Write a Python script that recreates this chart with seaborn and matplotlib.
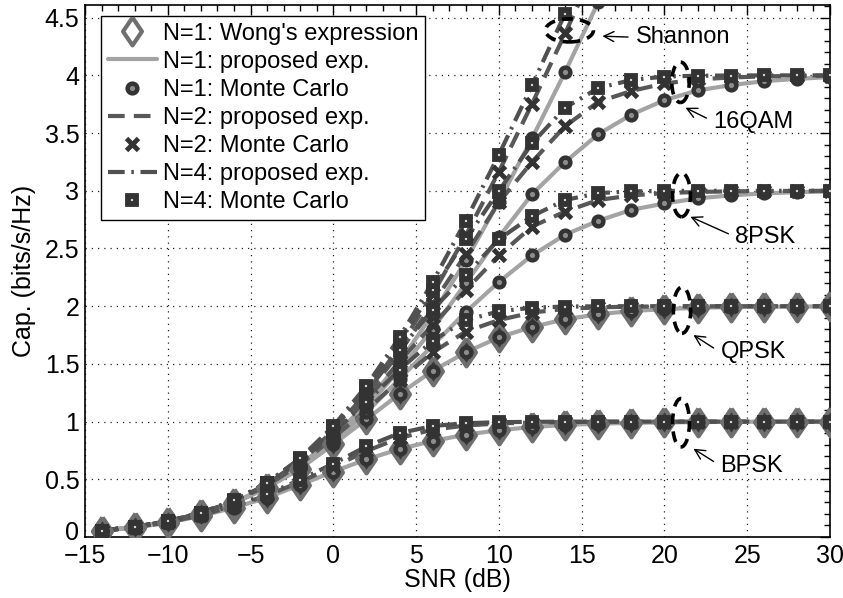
import numpy as np
import matplotlib
matplotlib.use("Agg")
import matplotlib.pyplot as plt
import matplotlib.transforms as mtransforms
import seaborn as sns
from matplotlib.patches import Ellipse
from matplotlib.lines import Line2D
from matplotlib.ticker import MultipleLocator, FormatStrFormatter

nan = np.nan

# ---------------- data ----------------
snr_db = [-14, -12, -10, -8, -6, -4, -2, 0, 2, 4, 6, 8, 10, 12, 14, 16, 18, 20, 22, 24, 26, 28, 30]

shannon_n1 = [0.055, 0.086, 0.132, 0.200, 0.299, 0.436, 0.621, 0.860, 1.158, 1.516, 1.930, 2.396, 2.907, 3.454, 4.030, 4.634,
              nan, nan, nan, nan, nan, nan, nan]
shannon_n2 = [0.056, 0.087, 0.135, 0.206, 0.311, 0.458, 0.659, 0.922, 1.251, 1.647, 2.104, 2.614, 3.166, 3.753, 4.364, 4.992,
              nan, nan, nan, nan, nan, nan, nan]
shannon_n4 = [0.056, 0.088, 0.136, 0.209, 0.317, 0.471, 0.682, 0.961, 1.310, 1.730, 2.210, 2.741, 3.313, 3.914, 4.536, 5.170,
              nan, nan, nan, nan, nan, nan, nan]

bpsk_n1 = [0.052, 0.082, 0.124, 0.182, 0.255, 0.340, 0.452, 0.567, 0.672, 0.762, 0.832, 0.887, 0.925, 0.953, 0.971, 0.982,
           0.989, 0.993, 0.996, 0.998, 0.999, 0.999, 1.000]
bpsk_n2 = [0.053, 0.083, 0.127, 0.189, 0.267, 0.360, 0.478, 0.608, 0.745, 0.858, 0.930, 0.966, 0.984, 0.992, 0.996, 0.998,
           0.999, 1.000, 1.000, 1.000, 1.000, 1.000, 1.000]
bpsk_n4 = [0.054, 0.084, 0.129, 0.193, 0.274, 0.371, 0.496, 0.636, 0.785, 0.900, 0.962, 0.986, 0.995, 0.998, 0.999, 1.000,
           1.000, 1.000, 1.000, 1.000, 1.000, 1.000, 1.000]

qpsk_n1 = [0.055, 0.085, 0.131, 0.197, 0.293, 0.425, 0.592, 0.803, 1.020, 1.240, 1.440, 1.600, 1.730, 1.820, 1.887, 1.930,
           1.958, 1.975, 1.986, 1.992, 1.995, 1.997, 1.999]
qpsk_n2 = [0.056, 0.087, 0.134, 0.204, 0.305, 0.447, 0.630, 0.860, 1.100, 1.360, 1.600, 1.780, 1.880, 1.945, 1.976, 1.990,
           1.996, 1.998, 1.999, 2.000, 2.000, 2.000, 2.000]
qpsk_n4 = [0.056, 0.088, 0.136, 0.207, 0.313, 0.460, 0.655, 0.900, 1.170, 1.450, 1.700, 1.880, 1.955, 1.987, 1.997, 1.999,
           2.000, 2.000, 2.000, 2.000, 2.000, 2.000, 2.000]

psk8_n1 = [0.055, 0.086, 0.131, 0.199, 0.296, 0.430, 0.605, 0.825, 1.080, 1.370, 1.660, 1.950, 2.210, 2.440, 2.620, 2.740,
           2.835, 2.890, 2.935, 2.960, 2.978, 2.988, 2.994]
psk8_n2 = [0.056, 0.087, 0.134, 0.205, 0.309, 0.452, 0.648, 0.895, 1.190, 1.520, 1.840, 2.140, 2.440, 2.690, 2.820, 2.920,
           2.960, 2.980, 2.990, 2.995, 2.998, 2.999, 3.000]
psk8_n4 = [0.056, 0.088, 0.136, 0.208, 0.316, 0.467, 0.675, 0.940, 1.260, 1.620, 1.970, 2.270, 2.580, 2.780, 2.920, 2.980,
           2.995, 2.999, 3.000, 3.000, 3.000, 3.000, 3.000]

qam16_n1 = [0.055, 0.086, 0.132, 0.200, 0.298, 0.434, 0.615, 0.845, 1.125, 1.450, 1.800, 2.200, 2.600, 2.970, 3.250, 3.490,
            3.660, 3.785, 3.870, 3.915, 3.950, 3.970, 3.985]
qam16_n2 = [0.056, 0.087, 0.135, 0.206, 0.310, 0.456, 0.655, 0.910, 1.230, 1.600, 2.020, 2.450, 2.900, 3.250, 3.560, 3.770,
            3.865, 3.930, 3.965, 3.982, 3.991, 3.996, 3.998]
qam16_n4 = [0.056, 0.088, 0.136, 0.209, 0.316, 0.469, 0.678, 0.950, 1.290, 1.690, 2.140, 2.580, 3.000, 3.410, 3.720, 3.890,
            3.960, 3.990, 3.997, 3.999, 4.000, 4.000, 4.000]

# Wong's expression (N=1) only for BPSK and QPSK; coincides with N=1 results
wong_bpsk = bpsk_n1
wong_qpsk = qpsk_n1

legend_labels = ["N=1: Wong's expression", "N=1: proposed exp.", "N=1: Monte Carlo",
                 "N=2: proposed exp.", "N=2: Monte Carlo", "N=4: proposed exp.", "N=4: Monte Carlo"]
x_ticks = [-15, -10, -5, 0, 5, 10, 15, 20, 25, 30]
y_ticks = [0, 0.5, 1, 1.5, 2, 2.5, 3, 3.5, 4, 4.5]

curves_n1 = [bpsk_n1, qpsk_n1, psk8_n1, qam16_n1, shannon_n1]
curves_n2 = [bpsk_n2, qpsk_n2, psk8_n2, qam16_n2, shannon_n2]
curves_n4 = [bpsk_n4, qpsk_n4, psk8_n4, qam16_n4, shannon_n4]

# ---------------- styling ----------------
sns.set_theme(style="white")
plt.rcParams["font.family"] = ["Liberation Sans", "DejaVu Sans"]
plt.rcParams["axes.unicode_minus"] = True
for k in ["text.color", "axes.labelcolor", "xtick.color", "ytick.color", "axes.edgecolor"]:
    plt.rcParams[k] = "black"

FS = 18
c_n1 = "#a3a3a3"
c_n2 = "#585858"
c_n4 = "#505050"
c_dark = "#333333"
c_dia_edge = "#6f6f6f"

dash_n2 = (0, (4.0, 2.2))
dash_n4 = (0, (4.0, 1.6, 0.6, 1.6))

# tall diamond (as in the reference)
diamond = [(0, 1.0), (0.68, 0), (0, -1.0), (-0.68, 0), (0, 1.0)]

fig = plt.figure(figsize=(8.43, 5.98), dpi=100)
ax = fig.add_axes([85 / 843, 1 - 537 / 598, (830 - 85) / 843, (537 - 5) / 598])


def draw_line(y, **kw):
    sns.lineplot(x=snr_db, y=y, ax=ax, legend=False, estimator=None, sort=False, **kw)


# lines (proposed expressions)
for y in curves_n1:
    draw_line(y, color=c_n1, linewidth=3.0, zorder=2)
for y in curves_n2:
    draw_line(y, color=c_n2, linewidth=3.0, linestyle=dash_n2, zorder=2.1)
for y in curves_n4:
    draw_line(y, color=c_n4, linewidth=3.0, linestyle=dash_n4, zorder=2.2)

# Wong's expression markers
for y in [wong_bpsk, wong_qpsk]:
    draw_line(y, color=c_dia_edge, linestyle="none", marker=diamond, markersize=20,
              mfc="#3a3a3a", mec=c_dia_edge, mew=3.0, zorder=3)

# Monte Carlo markers
for y in curves_n1:
    draw_line(y, color=c_dark, linestyle="none", marker="o", markersize=7,
              mfc="#8c8c8c", mec=c_dark, mew=3.2, zorder=4)
for y in curves_n2:
    draw_line(y, color=c_dark, linestyle="none", marker="x", markersize=8.5,
              mec=c_dark, mew=3.5, zorder=5)
for y in curves_n4:
    draw_line(y, color=c_dark, linestyle="none", marker="s", markersize=6.0,
              mfc="#d0d0d0", mec=c_dark, mew=4.2, zorder=6)

# ---------------- axes ----------------
ax.set_xlim(-15, 30)
ax.set_ylim(0, 4.61)
ax.set_xticks(x_ticks)
ax.set_yticks(y_ticks)
ax.yaxis.set_major_formatter(FormatStrFormatter("%g"))
ax.xaxis.set_minor_locator(MultipleLocator(1))
ax.yaxis.set_minor_locator(MultipleLocator(0.1))
ax.tick_params(which="both", direction="in", top=True, right=True, colors="black",
               labelsize=FS, width=1.0)
ax.tick_params(which="major", length=7)
ax.tick_params(axis="x", which="major", pad=5)
ax.tick_params(axis="y", which="major", pad=4)
ax.tick_params(which="minor", length=4)
ax.grid(True, which="major", linestyle=(0, (1, 4)), color="#222222", linewidth=0.9)
for s in ax.spines.values():
    s.set_color("black")
    s.set_linewidth(1.2)
    s.set_visible(True)

ax.set_xlabel("SNR (dB)", fontsize=FS, labelpad=0, color="black")
ax.set_ylabel("Cap. (bits/s/Hz)", fontsize=FS, labelpad=6, color="black")

# lift the "0" y label slightly so it sits above the "-15" x label (as in the reference)
fig.canvas.draw()
zero_lbl = ax.yaxis.get_major_ticks()[0].label1
zero_lbl.set_transform(zero_lbl.get_transform() +
                       mtransforms.ScaledTranslation(0, 7 / 100, fig.dpi_scale_trans))

# ---------------- ellipses + annotations ----------------
ell_kw = dict(fill=False, edgecolor="black", linewidth=2.6, linestyle=(0, (3.0, 2.0)), zorder=8)
ellipses = [((14.26, 4.39), 2.9, 0.20), ((20.97, 3.94), 1.05, 0.35), ((21.03, 2.965), 1.08, 0.38),
            ((21.06, 1.965), 1.05, 0.40), ((21.0, 0.99), 1.02, 0.42)]
for (c, w, h) in ellipses:
    ax.add_patch(Ellipse(c, w, h, **ell_kw))

annots = [("Shannon", (16.25, 4.34), (18.25, 4.33)),
          ("16QAM", (21.27, 3.72), (22.96, 3.60)),
          ("8PSK", (21.57, 2.775), (24.29, 2.60)),
          ("QPSK", (21.75, 1.75), (23.38, 1.60)),
          ("BPSK", (21.75, 0.765), (23.38, 0.617))]
for txt, head, pos in annots:
    ax.annotate(txt, xy=head, xytext=pos, fontsize=17, ha="left", va="center", zorder=9, color="black",
                arrowprops=dict(arrowstyle="->", color="black", lw=1.0, shrinkA=3, shrinkB=0,
                                relpos=(0, 0.5), mutation_scale=18))

# ---------------- legend ----------------
handles = [
    Line2D([], [], linestyle="none", marker=diamond, markersize=20, mfc="white", mec=c_dia_edge, mew=3.0),
    Line2D([], [], color=c_n1, linewidth=3.0),
    Line2D([], [], linestyle="none", marker="o", markersize=7, mfc="#8c8c8c", mec=c_dark, mew=3.2),
    Line2D([], [], color=c_n2, linewidth=3.0, linestyle=dash_n2),
    Line2D([], [], linestyle="none", marker="x", markersize=8.5, mec=c_dark, mew=3.5),
    Line2D([], [], color=c_n4, linewidth=3.0, linestyle=dash_n4),
    Line2D([], [], linestyle="none", marker="s", markersize=6.0, mfc="#d0d0d0", mec=c_dark, mew=4.2),
]
leg = ax.legend(handles, legend_labels, loc="upper left", bbox_to_anchor=((101 - 85) / 745, (537 - 16) / 532),
                fontsize=17, frameon=True, fancybox=False, framealpha=1, edgecolor="black",
                handlelength=2.1, handletextpad=0.25, labelspacing=0.26, borderpad=0.28,
                borderaxespad=0.0)
leg.get_frame().set_linewidth(1.0)
for t in leg.get_texts():
    t.set_color("black")
leg.set_zorder(20)

fig.savefig("out.png", dpi=100)
